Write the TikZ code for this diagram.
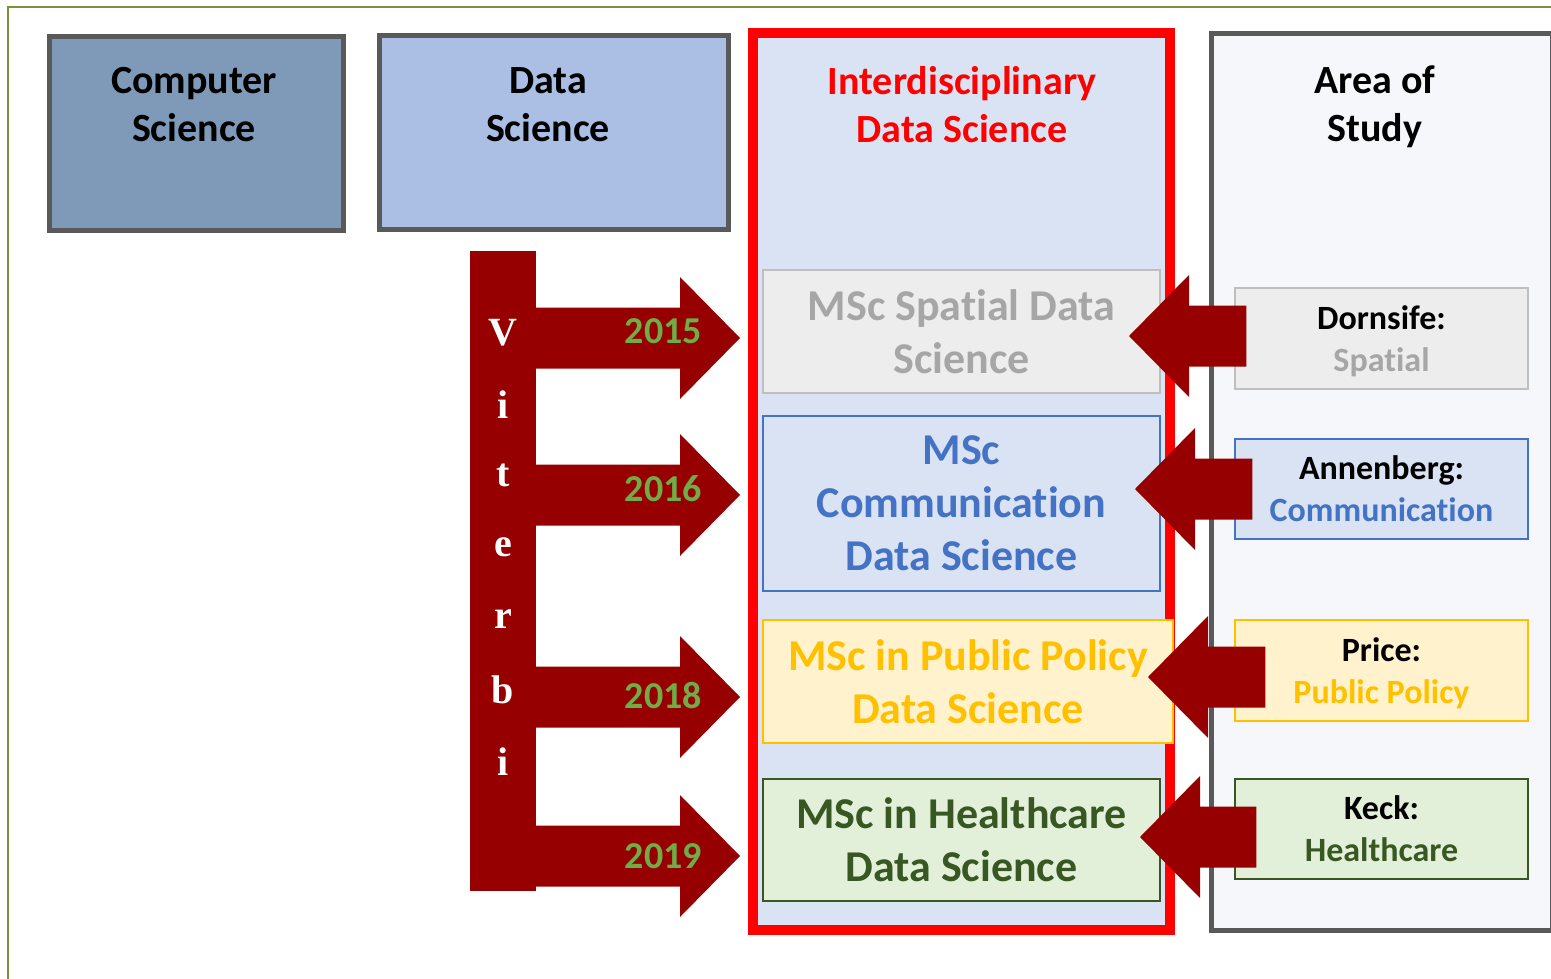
\documentclass[tikz,border=0pt]{standalone}
\usepackage{fontspec}
\setmainfont{Carlito}[Ligatures=NoCommon]
\newfontfamily\vfont{Liberation Serif}
\usetikzlibrary{calc}

\definecolor{framegreen}{RGB}{119,147,60}
\definecolor{boxgray}{RGB}{89,89,89}
\definecolor{csblue}{RGB}{127,154,185}
\definecolor{dsblue}{RGB}{171,190,228}
\definecolor{idsfill}{RGB}{218,227,243}
\definecolor{areafill}{RGB}{246,247,251}
\definecolor{arrowred}{RGB}{150,0,0}
\definecolor{yeargreen}{RGB}{112,173,71}
\definecolor{spatfill}{RGB}{237,237,237}
\definecolor{spatline}{RGB}{191,191,191}
\definecolor{spattext}{RGB}{166,166,166}
\definecolor{commblue}{RGB}{68,114,196}
\definecolor{polfill}{RGB}{255,242,204}
\definecolor{polgold}{RGB}{255,192,0}
\definecolor{healthfill}{RGB}{226,240,217}
\definecolor{healthgreen}{RGB}{56,87,35}

% t and i kept apart (no ti ligature)
\newcommand{\tinolig}{t\kern0pt i}

% block arrow: shaft start, tip, head offset (-60pt points right, 60pt points left)
\newcommand{\blockarrow}[3]{%
  \fill[arrowred] let \p1=(#1), \p2=(#2) in
    (\x1,\y2+30.5pt) -- ({\x2+(#3)},\y2+30.5pt) -- ({\x2+(#3)},\y2+61pt) -- (\x2,\y2)
    -- ({\x2+(#3)},\y2-61pt) -- ({\x2+(#3)},\y2-30.5pt) -- (\x1,\y2-30.5pt) -- cycle;}

\tikzset{
  box/.style={draw=boxgray, line width=5pt, inner sep=0pt},
  headtext/.style={align=center, inner sep=0pt, font=\fontsize{40}{48}\selectfont\bfseries},
  msc/.style={line width=1.5pt, inner sep=0pt, align=center, font=\fontsize{44}{53}\selectfont\bfseries},
  school/.style={line width=1.5pt, inner sep=0pt, text depth=0pt, align=center, font=\fontsize{34}{42}\selectfont\bfseries},
  year/.style={text=yeargreen, inner sep=0pt, anchor=east, font=\fontsize{38}{46}\selectfont\bfseries},
  vletter/.style={text=white, inner sep=0pt, font=\fontsize{40}{48}\selectfont\vfont\bfseries}
}

\begin{document}
\begin{tikzpicture}[x=1pt, y=-1pt, line join=miter]
	\useasboundingbox (0,0) rectangle (1551,979);
	\clip (0,0) rectangle (1551,979);
	\draw[framegreen, line width=1.2pt] (8,7) rectangle (1600,1020);
	% top row
	\node[box, fill=csblue, minimum width=294pt, minimum height=194pt] (cs) at (196.5,133.5) {};
	\node[headtext] (cstext) at (194,105) {Computer\\Science};
	\node[box, fill=dsblue, minimum width=349pt, minimum height=194pt] (ds) at (554,132.5) {};
	\node[headtext] (dstext) at (548,105) {Data\\Science};
	\node[draw=red, line width=10pt, fill=idsfill, inner sep=0pt, minimum width=417pt, minimum height=897pt] (ids) at (961.5,481.5) {};
	\node[headtext, text=red] (idstext) at (962,105) {Interdisciplinary\\Data Science};
	\node[box, fill=areafill, minimum width=341pt, minimum height=896.5pt] (area) at (1382,481.75) {};
	\node[headtext] (areatext) at (1375,107) {Area of\\Study};
	% programmes
	\node[msc, draw=spatline, fill=spatfill, text=spattext, minimum width=397pt, minimum height=123pt] (spatial) at (961.5,331.5) {MSc Spa\tinolig al Data\\Science};
	\node[msc, draw=commblue, fill=idsfill, text=commblue, minimum width=397pt, minimum height=175pt] (comm) at (961.5,503.5) {MSc\\Communica\tinolig on\\Data Science};
	\node[msc, draw=polgold, fill=polfill, text=polgold, minimum width=410pt, minimum height=123pt] (policy) at (968,681.5) {MSc in Public Policy\\Data Science};
	\node[msc, draw=healthgreen, fill=healthfill, text=healthgreen, minimum width=397pt, minimum height=122pt] (health) at (961.5,840) {MSc in Healthcare\\Data Science};
	% schools
	\node[school, draw=spatline, fill=spatfill, minimum width=293pt, minimum height=101pt] (dornsife) at (1381.5,338.5) {Dornsife:\\\textcolor{spattext}{Spa\tinolig al}};
	\node[school, draw=commblue, fill=idsfill, minimum width=293pt, minimum height=100pt] (annenberg) at (1381.5,489) {Annenberg:\\\textcolor{commblue}{Communica\tinolig on}};
	\node[school, draw=polgold, fill=polfill, minimum width=293pt, minimum height=101pt] (price) at (1381.5,670.5) {Price:\\\textcolor{polgold}{Public Policy}};
	\node[school, draw=healthgreen, fill=healthfill, minimum width=293pt, minimum height=100pt] (keck) at (1381.5,829) {Keck:\\\textcolor{healthgreen}{Healthcare}};
	% Viterbi bar and years
	\node[fill=arrowred, inner sep=0pt, minimum width=66pt, minimum height=640pt] (viterbi) at (503,571) {};
	\foreach \yr/\yy/\ty in {2015/338/331,2016/495/489,2018/697/696,2019/856/856}{
		\coordinate (tip\yr) at (740,\yy);
		\blockarrow{viterbi.center}{tip\yr}{-60pt}
		\node[year] (y\yr) at (702,\ty) {\yr};
	}
	\foreach \ch [count=\k from 0] in {V,i,t,e,r,b,i}
		\node[vletter] (v\k) at (503,{333+71.4*\k}) {\ch};
	% schools feed the programmes
	\coordinate (tipspatial) at (1129,336);
	\coordinate (tipcomm) at (1135,489);
	\coordinate (tippolicy) at (1148,677);
	\coordinate (tiphealth) at (1140,837);
	\blockarrow{[xshift=12pt]dornsife.west}{tipspatial}{60pt}
	\blockarrow{[xshift=18pt]annenberg.west}{tipcomm}{60pt}
	\blockarrow{[xshift=31pt]price.west}{tippolicy}{60pt}
	\blockarrow{[xshift=22pt]keck.west}{tiphealth}{60pt}
\end{tikzpicture}
\end{document}
